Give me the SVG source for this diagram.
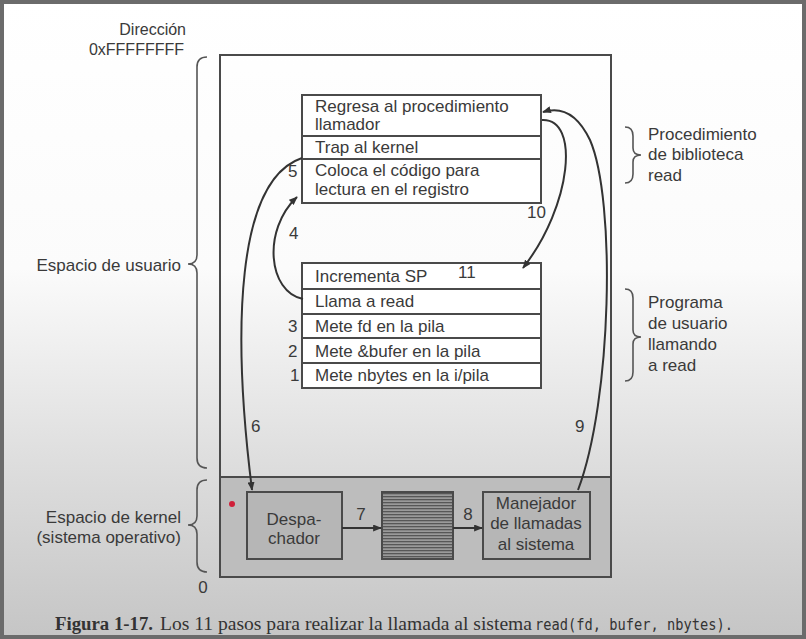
<svg xmlns="http://www.w3.org/2000/svg" width="806" height="639" viewBox="0 0 806 639">
<defs>
<linearGradient id="bg" x1="0" y1="0" x2="0" y2="1">
<stop offset="0" stop-color="#ffffff"/>
<stop offset="0.42" stop-color="#fbfbfb"/>
<stop offset="0.72" stop-color="#dedede"/>
<stop offset="1" stop-color="#c5c5c5"/>
</linearGradient>
<pattern id="stripes" x="0" y="492" width="6" height="3" patternUnits="userSpaceOnUse">
<rect width="6" height="3" fill="#9a9a9a"/>
<rect y="1" width="6" height="1.3" fill="#575757"/>
</pattern>
<marker id="ah" viewBox="0 0 10 8" refX="9" refY="4" markerWidth="9" markerHeight="7" markerUnits="userSpaceOnUse" orient="auto">
<path d="M0,0 L10,4 L0,8 z" fill="#333"/>
</marker>
<style>
text{font-family:"Liberation Sans",Arial,sans-serif;font-size:17px;fill:#3a3a3a}
.r{text-anchor:end}
.m{text-anchor:middle}
.box{fill:#ffffff;stroke:#4a4a4a;stroke-width:2}
.kbox{fill:#b6b6b6;stroke:#4a4a4a;stroke-width:2}
.conn{fill:none;stroke:#333;stroke-width:2}
.brace{fill:none;stroke:#555;stroke-width:1.6}
.cap{font-family:"Liberation Serif","Times New Roman",serif;font-size:18px;fill:#333}
</style>
</defs>
<rect x="0" y="0" width="806" height="639" fill="url(#bg)"/>
<rect x="2" y="2" width="802" height="635" fill="none" stroke="#6b6b6b" stroke-width="4"/>

<g id="address-labels">
<text class="r" x="186" y="35" style="font-size:16px">Dirección</text>
<text class="r" x="184" y="55" style="font-size:16px">0xFFFFFFFF</text>
<text class="m" x="203" y="593">0</text>
</g>

<g id="user-space-brace">
<path class="brace" d="M207,57 Q197,57 197,67 L197,255 Q197,264 188,264 Q197,264 197,273 L197,458 Q197,468 207,468"/>
<text class="r" x="181" y="271">Espacio de usuario</text>
</g>
<g id="kernel-space-brace">
<path class="brace" d="M207,480 Q197,480 197,490 L197,516 Q197,525 188,525 Q197,525 197,534 L197,562 Q197,572 207,572"/>
<text class="r" x="181" y="523">Espacio de kernel</text>
<text class="r" x="181" y="543">(sistema operativo)</text>
</g>

<g id="memory">
<rect x="220" y="55" width="391" height="522" fill="none" stroke="#4a4a4a" stroke-width="2"/>
</g>
<g id="kernel-area">
<rect x="220" y="477" width="391" height="100" fill="#bdbdbd" stroke="#4a4a4a" stroke-width="2"/>
<circle cx="232" cy="504" r="3" fill="#d0203a"/>
</g>

<g id="library-procedure">
<rect class="box" x="302" y="95" width="239" height="41"/>
<rect class="box" x="302" y="136" width="239" height="23"/>
<rect class="box" x="302" y="159" width="239" height="44"/>
<text x="315" y="112">Regresa al procedimiento</text>
<text x="315" y="130">llamador</text>
<text x="315" y="153">Trap al kernel</text>
<text x="315" y="176">Coloca el código para</text>
<text x="315" y="195">lectura en el registro</text>
</g>

<g id="user-program">
<rect class="box" x="302" y="263" width="239" height="26"/>
<rect class="box" x="302" y="289" width="239" height="25"/>
<rect class="box" x="302" y="314" width="239" height="24"/>
<rect class="box" x="302" y="338" width="239" height="25"/>
<rect class="box" x="302" y="363" width="239" height="25"/>
<text x="315" y="282">Incrementa SP</text>
<text x="315" y="307">Llama a read</text>
<text x="315" y="332">Mete fd en la pila</text>
<text x="315" y="357">Mete &amp;bufer en la pila</text>
<text x="315" y="381">Mete nbytes en la i/pila</text>
</g>

<g id="library-brace">
<path class="brace" d="M625,127 Q633,127 633,136 L633,148 Q633,155 641,155 Q633,155 633,162 L633,174 Q633,183 625,183"/>
<text x="648" y="140">Procedimiento</text>
<text x="648" y="160">de biblioteca</text>
<text x="648" y="181">read</text>
</g>
<g id="user-program-brace">
<path class="brace" d="M625,289 Q633,289 633,298 L633,330 Q633,337 641,337 Q633,337 633,344 L633,372 Q633,381 625,381"/>
<text x="648" y="308">Programa</text>
<text x="648" y="329">de usuario</text>
<text x="648" y="350">llamando</text>
<text x="648" y="371">a read</text>
</g>

<g id="dispatcher">
<rect class="kbox" x="247" y="492" width="95" height="67"/>
<text class="m" x="294" y="525">Despa-</text>
<text class="m" x="294" y="544">chador</text>
</g>
<g id="syscall-table">
<rect x="382" y="492" width="71" height="67" fill="url(#stripes)" stroke="#4a4a4a" stroke-width="2"/>
</g>
<g id="syscall-handler">
<rect class="kbox" x="483" y="492" width="107" height="67"/>
<text class="m" x="536" y="509">Manejador</text>
<text class="m" x="536" y="529">de llamadas</text>
<text class="m" x="536" y="550">al sistema</text>
</g>

<g id="connectors">
<path class="conn" d="M303,299 C268,292 262,230 297,197" marker-end="url(#ah)"/>
<path class="conn" d="M302,158 C236,180 232,330 252,490" marker-end="url(#ah)"/>
<path class="conn" d="M578,490 C612,400 616,200 590,140 C578,115 562,106 543,112" marker-end="url(#ah)"/>
<path class="conn" d="M542,120 C580,118 572,205 523,268" marker-end="url(#ah)"/>
<path class="conn" d="M342,528 L381,528" marker-end="url(#ah)"/>
<path class="conn" d="M453,528 L482,528" marker-end="url(#ah)"/>
</g>

<g id="step-labels">
<text x="288" y="332">3</text>
<text x="288" y="357">2</text>
<text x="290" y="381">1</text>
<text x="289" y="239">4</text>
<text x="288" y="177">5</text>
<text x="251" y="432">6</text>
<text class="m" x="361" y="520">7</text>
<text class="m" x="468" y="520">8</text>
<text x="575" y="432">9</text>
<text x="527" y="218">10</text>
<text x="458" y="278">11</text>
</g>

<g id="caption">
<text class="cap" x="55" y="630" font-weight="bold" textLength="98" lengthAdjust="spacingAndGlyphs">Figura 1-17.</text>
<text class="cap" x="160" y="630" textLength="372" lengthAdjust="spacingAndGlyphs">Los 11 pasos para realizar la llamada al sistema</text>
<text x="535" y="630" style="font-family:'DejaVu Sans Mono','Liberation Mono',monospace;font-size:15px;fill:#333" textLength="198" lengthAdjust="spacingAndGlyphs">read(fd, bufer, nbytes).</text>
</g>
</svg>
